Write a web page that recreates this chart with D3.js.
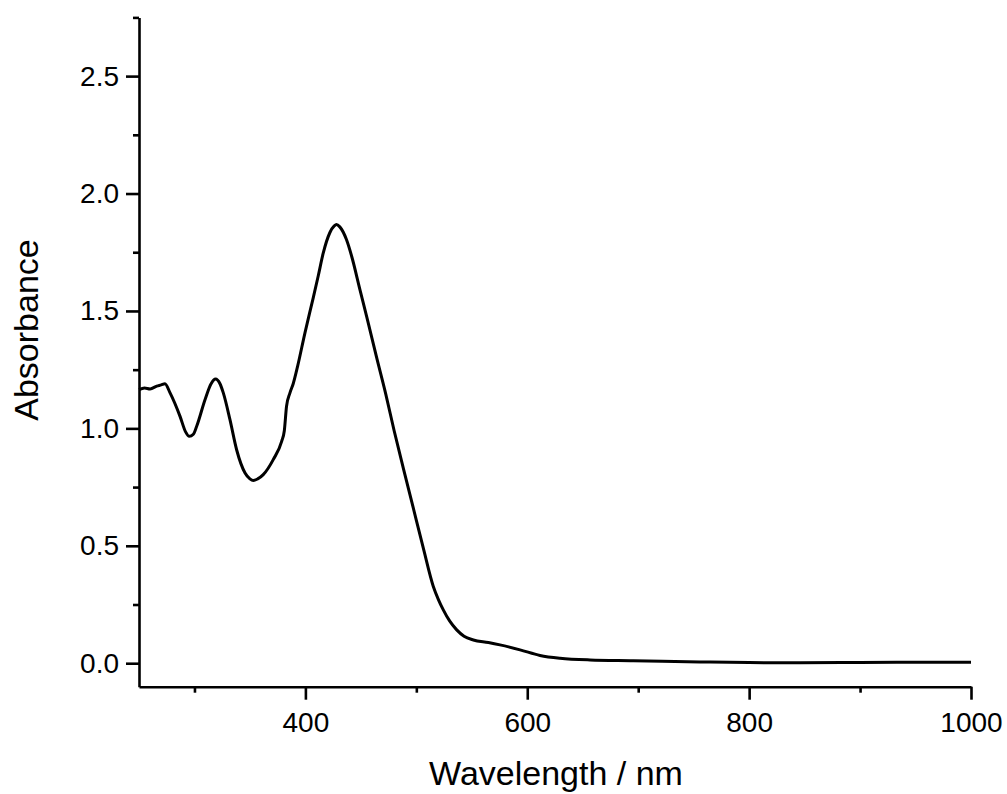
<!DOCTYPE html>
<html>
<head>
<meta charset="utf-8">
<script src="https://cdn.jsdelivr.net/npm/d3@7"></script>
<style>
  html, body { margin: 0; padding: 0; background: #fff; }
  svg { display: block; }
  text { font-family: "Liberation Sans", Arial, sans-serif; fill: #000; }
</style>
</head>
<body>
<svg id="chart" width="1007" height="794"></svg>
<script>
const wavelength = [250, 255, 260, 266, 270, 273.4, 278, 287, 292, 295.3, 299, 302, 309.5, 315, 319, 323, 326, 332, 338, 345.6, 350, 353, 357, 362, 371, 378.6, 381, 383, 386, 389, 393, 399.6, 407, 411.6, 416, 422, 426, 428, 431, 437, 441.7, 449.2, 455.3, 464.3, 472.5, 480, 488.3, 497.3, 506.3, 515.3, 520, 524.3, 530, 536.4, 543, 551.4, 565, 575.4, 593.5, 611.5, 629.5, 656.6, 695.6, 755.7, 800, 846, 900, 950, 1000];
const absorbance = [1.165, 1.172, 1.168, 1.18, 1.185, 1.19, 1.151, 1.051, 0.985, 0.966, 0.975, 1.009, 1.122, 1.19, 1.21, 1.19, 1.151, 1.037, 0.909, 0.81, 0.785, 0.778, 0.785, 0.803, 0.867, 0.945, 0.99, 1.094, 1.15, 1.19, 1.265, 1.407, 1.555, 1.65, 1.745, 1.833, 1.862, 1.868, 1.858, 1.804, 1.733, 1.59, 1.475, 1.30, 1.145, 0.99, 0.83, 0.66, 0.49, 0.327, 0.27, 0.227, 0.18, 0.142, 0.115, 0.099, 0.088, 0.078, 0.057, 0.033, 0.021, 0.014, 0.011, 0.0055, 0.0026, 0.002, 0.003, 0.004, 0.004];
const xMajorTicks = [400, 600, 800, 1000];
const xMinorTicks = [300, 500, 700, 900];
const yMajorTicks = [0, 0.5, 1.0, 1.5, 2.0, 2.5];
const yMinorTicks = [0.25, 0.75, 1.25, 1.75, 2.25, 2.75];
const xTitle = "Wavelength / nm";
const yTitle = "Absorbance";

const svg = d3.select("#chart");
const x = d3.scaleLinear().domain([250, 1000]).range([139, 971]);
const y = d3.scaleLinear().domain([-0.1, 2.75]).range([686.7, 17.4]);

const data = wavelength.map((w, i) => ({ w, a: absorbance[i] }));

// minor ticks
svg.append("g")
  .attr("transform", `translate(0,${y.range()[0]})`)
  .call(d3.axisBottom(x).tickValues(xMinorTicks).tickSize(6).tickFormat(""))
  .call(g => g.select(".domain").remove());
svg.append("g")
  .attr("transform", `translate(${x.range()[0]},0)`)
  .call(d3.axisLeft(y).tickValues(yMinorTicks).tickSize(6).tickFormat(""))
  .call(g => g.select(".domain").remove());

// major axes
svg.append("g")
  .attr("transform", `translate(0,${y.range()[0]})`)
  .call(d3.axisBottom(x).tickValues(xMajorTicks).tickSize(13).tickSizeOuter(0).tickPadding(12).tickFormat(d3.format("d")));
svg.append("g")
  .attr("transform", `translate(${x.range()[0]},0)`)
  .call(d3.axisLeft(y).tickValues(yMajorTicks).tickSize(13).tickSizeOuter(0).tickPadding(7).tickFormat(d3.format(".1f")));

svg.selectAll(".tick line, .domain").attr("stroke", "#000").attr("stroke-width", 2.6);
svg.selectAll(".tick text").attr("font-size", 28).attr("font-family", "Liberation Sans, Arial, sans-serif").attr("fill", "#000");

// line
svg.append("path")
  .datum(data)
  .attr("fill", "none")
  .attr("stroke", "#000")
  .attr("stroke-width", 3)
  .attr("stroke-linejoin", "round")
  .attr("d", d3.line().x(d => x(d.w)).y(d => y(d.a)).curve(d3.curveMonotoneX));

// titles
svg.append("text")
  .attr("x", 556).attr("y", 785)
  .attr("text-anchor", "middle")
  .attr("font-size", 34)
  .text(xTitle);
svg.append("text")
  .attr("transform", "translate(38,330) rotate(-90)")
  .attr("text-anchor", "middle")
  .attr("font-size", 34)
  .text(yTitle);
</script>
</body>
</html>
